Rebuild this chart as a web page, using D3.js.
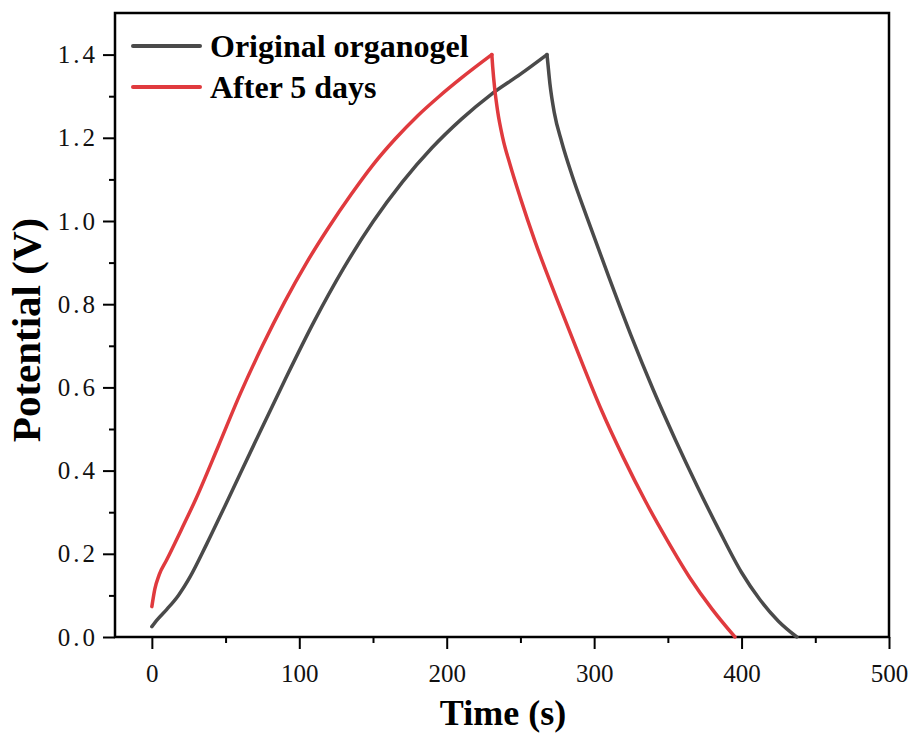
<!DOCTYPE html>
<html>
<head>
<meta charset="utf-8">
<script src="https://cdn.jsdelivr.net/npm/d3@7"></script>
<style>
  body { margin: 0; background: #fff; }
  svg { display: block; }
</style>
</head>
<body>
<svg id="chart"></svg>
<script>
// chart size and plot frame
const width = 914, height = 740;
const marginTop = 13, marginRight = 25, marginBottom = 103, marginLeft = 115;

// series: time (s) / potential (V)
const seriesNames = ["Original organogel", "After 5 days"];
const seriesColors = ["#4a4a4a", "#e03a3e"];

const originalTime = [0, 4, 10, 18, 26, 37, 50, 70, 90, 110, 130, 150, 170, 190, 210, 230, 250, 268,
  268.3, 270, 273, 278, 285, 295, 310, 325, 340, 355, 370, 385, 400, 412, 425, 437.5];
const originalVolt = [0.025, 0.043, 0.066, 0.1, 0.145, 0.222, 0.318, 0.468, 0.616, 0.758, 0.886, 0.998, 1.094, 1.176, 1.245, 1.304, 1.353, 1.4,
  1.39, 1.33, 1.26, 1.19, 1.11, 1.01, 0.865, 0.725, 0.595, 0.475, 0.362, 0.255, 0.155, 0.092, 0.038, 0.0];

const agedTime = [0, 2, 5, 10, 20, 30, 45, 60, 75, 90, 105, 120, 135, 150, 165, 180, 195, 210, 230.6,
  231.2, 232.5, 234.5, 238, 243, 250, 260, 275, 290, 305, 320, 335, 350, 365, 380, 395.5];
const agedVolt = [0.073, 0.115, 0.15, 0.185, 0.258, 0.333, 0.458, 0.585, 0.7, 0.805, 0.9, 0.985, 1.063, 1.135, 1.197, 1.252, 1.3, 1.344, 1.4,
  1.37, 1.32, 1.265, 1.2, 1.135, 1.055, 0.95, 0.81, 0.675, 0.545, 0.43, 0.325, 0.23, 0.142, 0.067, 0.0];

// axis ticks
const xTicks = [0, 100, 200, 300, 400, 500];
const xMinorTicks = [50, 150, 250, 350, 450];
const yTicks = [0, 0.2, 0.4, 0.6, 0.8, 1.0, 1.2, 1.4];
const yMinorTicks = [0.1, 0.3, 0.5, 0.7, 0.9, 1.1, 1.3];
const yTickLabels = ["0.0", "0.2", "0.4", "0.6", "0.8", "1.0", "1.2", "1.4"];

const series = [
  { name: seriesNames[0], color: seriesColors[0], values: originalTime.map((t, i) => ({ t, v: originalVolt[i] })) },
  { name: seriesNames[1], color: seriesColors[1], values: agedTime.map((t, i) => ({ t, v: agedVolt[i] })) }
];

const x = d3.scaleLinear([-25, 500], [marginLeft, width - marginRight]);
const y = d3.scaleLinear([0, 1.5], [height - marginBottom, marginTop]);

const svg = d3.select("#chart")
  .attr("width", width)
  .attr("height", height)
  .attr("viewBox", [0, 0, width, height]);

const tickFont = "'Liberation Serif', 'Times New Roman', serif";

// minor ticks first so the major axis draws over them
svg.append("g")
  .attr("transform", `translate(0,${height - marginBottom})`)
  .call(d3.axisBottom(x).tickValues(xMinorTicks).tickSize(6).tickFormat(""))
  .call(g => g.select(".domain").remove())
  .call(g => g.selectAll(".tick line").attr("stroke-width", 2));

svg.append("g")
  .attr("transform", `translate(${marginLeft},0)`)
  .call(d3.axisLeft(y).tickValues(yMinorTicks).tickSize(6).tickFormat(""))
  .call(g => g.select(".domain").remove())
  .call(g => g.selectAll(".tick line").attr("stroke-width", 2));

// major x axis
svg.append("g")
  .attr("transform", `translate(0,${height - marginBottom})`)
  .call(d3.axisBottom(x).tickValues(xTicks).tickSize(12).tickPadding(15).tickFormat(d3.format("d")))
  .call(g => g.select(".domain").remove())
  .call(g => g.selectAll(".tick line").attr("stroke-width", 2))
  .call(g => g.selectAll(".tick text")
    .attr("font-family", tickFont)
    .attr("font-size", 25)
    .attr("fill", "#111"));

// major y axis
svg.append("g")
  .attr("transform", `translate(${marginLeft},0)`)
  .call(d3.axisLeft(y).tickValues(yTicks).tickSize(12).tickPadding(5)
    .tickFormat((d, i) => yTickLabels[i]))
  .call(g => g.select(".domain").remove())
  .call(g => g.selectAll(".tick line").attr("stroke-width", 2))
  .call(g => g.selectAll(".tick text")
    .attr("font-family", tickFont)
    .attr("font-size", 25)
    .attr("letter-spacing", "3px")
    .attr("fill", "#111"));

// plot frame
svg.append("rect")
  .attr("x", marginLeft)
  .attr("y", marginTop)
  .attr("width", width - marginLeft - marginRight)
  .attr("height", height - marginTop - marginBottom)
  .attr("fill", "none")
  .attr("stroke", "#000")
  .attr("stroke-width", 2.5);

// curves: charge and discharge drawn as separate pieces so the peak stays sharp
const line = d3.line()
  .x(d => x(d.t))
  .y(d => y(d.v))
  .curve(d3.curveMonotoneX);

const pieces = series.flatMap(s => {
  const k = d3.maxIndex(s.values, d => d.v);
  return [
    { color: s.color, values: s.values.slice(0, k + 1) },
    { color: s.color, values: s.values.slice(k) }
  ];
});

svg.append("g")
  .selectAll("path")
  .data(pieces)
  .join("path")
    .attr("fill", "none")
    .attr("stroke", d => d.color)
    .attr("stroke-width", 3.5)
    .attr("stroke-linejoin", "round")
    .attr("stroke-linecap", "round")
    .attr("d", d => line(d.values));

// legend
const legend = svg.append("g")
  .selectAll("g")
  .data(series)
  .join("g")
    .attr("transform", (d, i) => `translate(133,${46 + i * 41})`);

legend.append("line")
  .attr("x1", 0).attr("x2", 67)
  .attr("stroke", d => d.color)
  .attr("stroke-width", 4)
  .attr("stroke-linecap", "round");

legend.append("text")
  .attr("x", 77)
  .attr("y", 11)
  .attr("font-family", tickFont)
  .attr("font-weight", "bold")
  .attr("font-size", 32)
  .attr("fill", "#000")
  .text(d => d.name);

// axis titles
svg.append("text")
  .attr("x", (x(-25) + x(500)) / 2 + 1)
  .attr("y", 725)
  .attr("text-anchor", "middle")
  .attr("font-family", tickFont)
  .attr("font-weight", "bold")
  .attr("font-size", 36)
  .text("Time (s)");

svg.append("text")
  .attr("transform", "translate(40,330) rotate(-90)")
  .attr("text-anchor", "middle")
  .attr("font-family", tickFont)
  .attr("font-weight", "bold")
  .attr("font-size", 41)
  .text("Potential (V)");
</script>
</body>
</html>
